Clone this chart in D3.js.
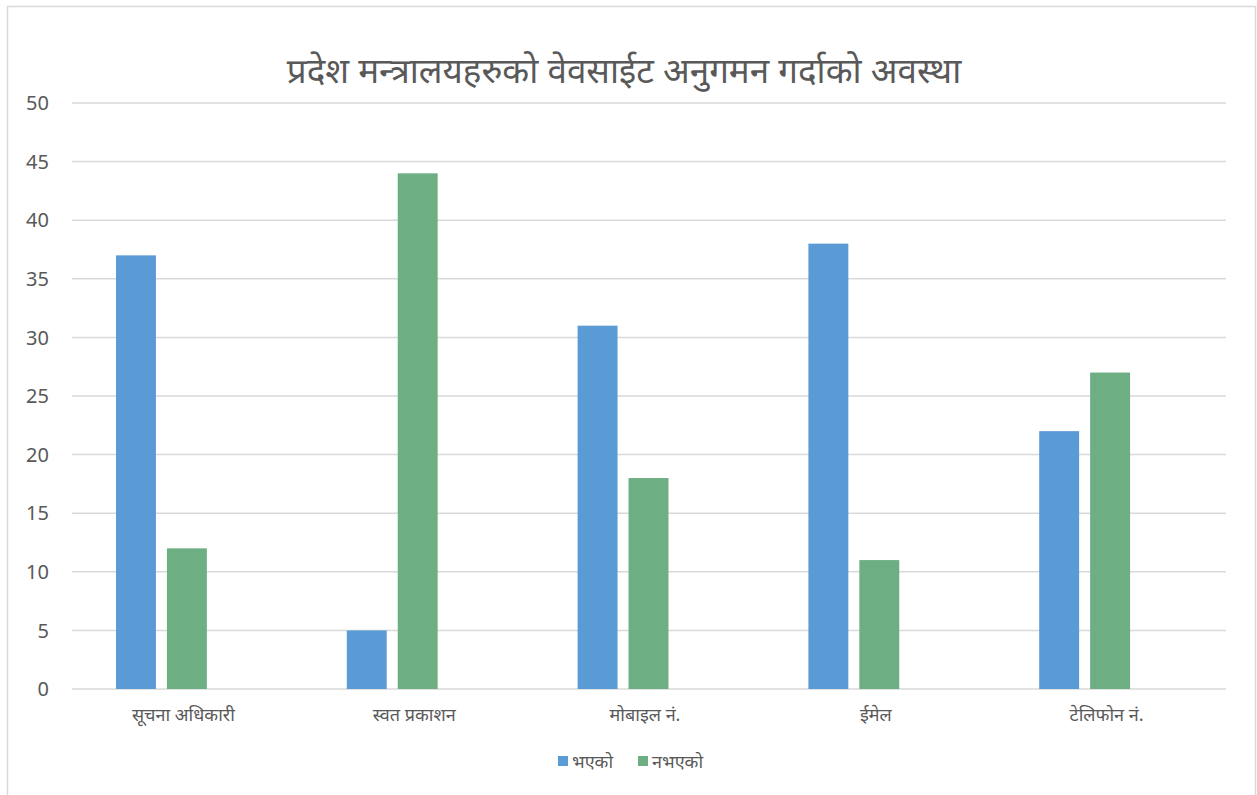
<!DOCTYPE html>
<html><head><meta charset="utf-8">
<script src="https://cdn.jsdelivr.net/npm/d3@7"></script>
<style>
html,body{margin:0;padding:0;background:#fff;}
text{font-family:"Noto Sans","Noto Sans Devanagari","DejaVu Sans",sans-serif;}
</style></head>
<body><svg id="c" width="1257" height="795"></svg>
<script>
const categories = ["सूचना अधिकारी","स्वत प्रकाशन","मोबाइल नं.","ईमेल","टेलिफोन नं."];
const seriesNames = ["भएको","नभएको"];
const seriesA = [37,5,31,38,22];
const seriesB = [12,44,18,11,27];
const yTicks = [0,5,10,15,20,25,30,35,40,45,50];
const title = "प्रदेश मन्त्रालयहरुको वेवसाईट अनुगमन गर्दाको अवस्था";
const colors = ["#5B9BD5","#6DAF82"];

const svg = d3.select("#c");
svg.append("rect").attr("x",7.5).attr("y",6.5).attr("width",1248).attr("height",800)
  .attr("fill","#fff").attr("stroke","#d9d9d9").attr("stroke-width",1.5);

const L=72,R=1226,T=103,B=689;
const x0 = d3.scaleBand().domain(categories).range([L,R]).padding(0);
const x1 = d3.scaleBand().domain(["a","b","_"]).range([44, x0.bandwidth()-45]).paddingInner(0.216);
const y = d3.scaleLinear().domain([0,50]).range([B,T]);

svg.append("g").selectAll("line").data(yTicks).join("line")
  .attr("x1",L).attr("x2",R).attr("y1",d=>y(d)).attr("y2",d=>y(d))
  .attr("stroke","#d9d9d9").attr("stroke-width",1.5);
svg.append("g").selectAll("text").data(yTicks).join("text")
  .attr("x",49).attr("y",d=>y(d)).attr("dy","0.36em").attr("text-anchor","end")
  .attr("font-size",20).attr("fill","#595959").text(d=>d);

const data = categories.map((c,i)=>({c, a:seriesA[i], b:seriesB[i]}));
const g = svg.append("g");
[["a",0],["b",1]].forEach(([k,si])=>{
  g.selectAll("rect.s"+k).data(data).join("rect").attr("class","s"+k)
    .attr("x",d=>x0(d.c)+x1(k)).attr("width",x1.bandwidth())
    .attr("y",d=>y(d[k])).attr("height",d=>B-y(d[k]))
    .attr("fill",colors[si]);
});

svg.append("g").selectAll("text").data(categories).join("text")
  .attr("x",d=>x0(d)+x0.bandwidth()/2-4).attr("y",721).attr("text-anchor","middle")
  .attr("font-size",18).attr("fill","#595959").text(d=>d);

svg.append("text").attr("x",624).attr("y",83).attr("text-anchor","middle")
  .attr("font-size",35).attr("fill","#595959").text(title);

const leg = svg.append("g");
const legX=[558,638];
seriesNames.forEach((n,i)=>{
  leg.append("rect").attr("x",legX[i]).attr("y",756).attr("width",10).attr("height",10).attr("fill",colors[i]);
  leg.append("text").attr("x",legX[i]+14).attr("y",768).attr("font-size",18).attr("fill","#595959").text(n);
});
</script></body></html>
